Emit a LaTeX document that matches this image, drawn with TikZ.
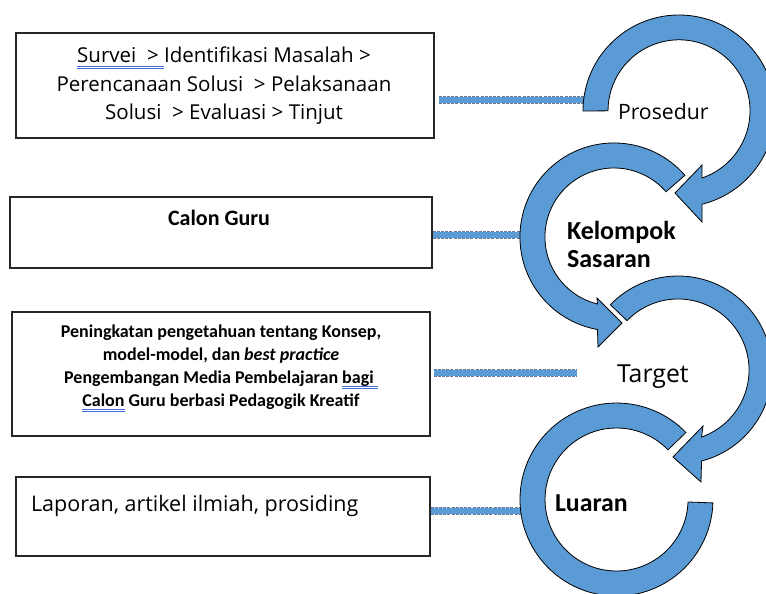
\documentclass[tikz,border=0pt]{standalone}
\usepackage{fontspec}
\setmainfont{Open Sans}
\newfontfamily\calib{Carlito}
\definecolor{arrblue}{RGB}{91,155,213}
\definecolor{connborder}{RGB}{105,120,145}
\definecolor{ulblue}{RGB}{70,110,220}
\newsavebox\ulbox
\newcommand\dblul[1]{\sbox\ulbox{#1}\rlap{\color{ulblue}\rule[-3.5pt]{\wd\ulbox}{0.8pt}}\rlap{\color{ulblue}\rule[-5.5pt]{\wd\ulbox}{0.8pt}}\usebox\ulbox}
\tikzset{
  boxnode/.style={draw=black!85, line width=1.1pt, inner sep=0pt, fill=white},
  arrshape/.style={fill=arrblue, draw=black, line width=0.8pt, line join=miter},
  conn/.style={draw=arrblue, line width=5.6pt, preaction={draw=connborder, line width=7.6pt, dash pattern=on 3pt off 1.2pt}},
  lbl/.style={inner sep=0pt, outer sep=0pt}
}
\begin{document}
\begin{tikzpicture}[x=1pt,y=1pt]
\useasboundingbox (0,0) rectangle (766,-594);
\fill[white] (0,0) rectangle (766,-594);
\clip (0,0) rectangle (766,-594);

% boxes
\node[boxnode, minimum width=418, minimum height=105] (b1) at (225,-85.5) {};
\node[boxnode, minimum width=422, minimum height=71] (b2) at (221,-232.5) {};
\node[boxnode, minimum width=418, minimum height=124] (b3) at (221,-374) {};
\node[boxnode, minimum width=414, minimum height=79] (b4) at (223,-516.5) {};

% box texts
\node[lbl, align=center, font=\fontsize{20.5}{28.5}\selectfont] (t1) at (224,-86)
  {\dblul{Survei\ \ >\ }Identifikasi Masalah >\\Perencanaan Solusi\ \ > Pelaksanaan\\Solusi\ \ > Evaluasi > Tinjut};
\node[lbl, anchor=base, font=\calib\bfseries\fontsize{22}{26}\selectfont] (t2) at (219,-225) {Calon Guru};
\node[lbl, align=center, font=\calib\bfseries\fontsize{18}{23}\selectfont] (t3) at (221,-368)
  {Peningkatan pengetahuan tentang Konsep,\\model-model, dan \textit{best practice}\\Pengembangan Media Pembelajaran \dblul{bagi\ }\\\dblul{Calon} Guru berbasi Pedagogik Kreatif};
\node[lbl, anchor=base west, font=\fontsize{21.5}{26}\selectfont] (t4) at (31,-511) {Laporan, artikel ilmiah, prosiding};

% connector end points
\coordinate (a1t) at (586,-100);
\coordinate (a2t) at (522,-235);
\coordinate (c3e) at (577,-373);
\coordinate (a4t) at (522,-511);

\draw[conn] ([xshift=4pt,yshift=-14.5pt]b1.east) -- (a1t);
\draw[conn] ([yshift=-2.5pt]b2.east) -- (a2t);
\draw[conn] ([xshift=3pt,yshift=1pt]b3.east) -- (c3e);
\draw[conn] ([yshift=5.5pt]b4.east) -- (a4t);

% circular arrows
\draw[arrshape] (583,-111) arc[start angle=180, end angle=-76.1, radius=96]
  -- (702,-222) -- (675,-193) -- (702,-165) -- (702,-178)
  arc[start angle=-71.1, end angle=180, radius=71] -- cycle;
\draw[arrshape] (684.9,-175.3) arc[start angle=41, end angle=259.9, radius=94]
  -- (598,-347) -- (622,-323) -- (597,-298) -- (597.5,-304)
  arc[start angle=256.2, end angle=41, radius=69] -- cycle;
\draw[arrshape] (610.4,-304.7) arc[start angle=136, end angle=-75.5, radius=94]
  -- (701,-482) -- (673,-457) -- (703,-426) -- (701.5,-437)
  arc[start angle=-70.7, end angle=136, radius=71] -- cycle;
\draw[arrshape] (685.9,-432.5) arc[start angle=44, end angle=358, radius=96.5]
  -- (688,-502) arc[start angle=358, end angle=44, radius=71.5] -- cycle;

% arrow labels
\node[lbl, anchor=base west, font=\fontsize{21.2}{26}\selectfont] (p) at (618,-119) {Prosedur};
\node[lbl, anchor=west, align=left, font=\calib\bfseries\fontsize{26}{28}\selectfont] (k) at (567,-244) {Kelompok\\Sasaran};
\node[lbl, anchor=base west, font=\fontsize{24.8}{28}\selectfont] (tg) at (617,-382) {Target};
\node[lbl, anchor=base west, font=\calib\bfseries\fontsize{25.8}{28}\selectfont] (l) at (555,-511) {Luaran};
\end{tikzpicture}
\end{document}
